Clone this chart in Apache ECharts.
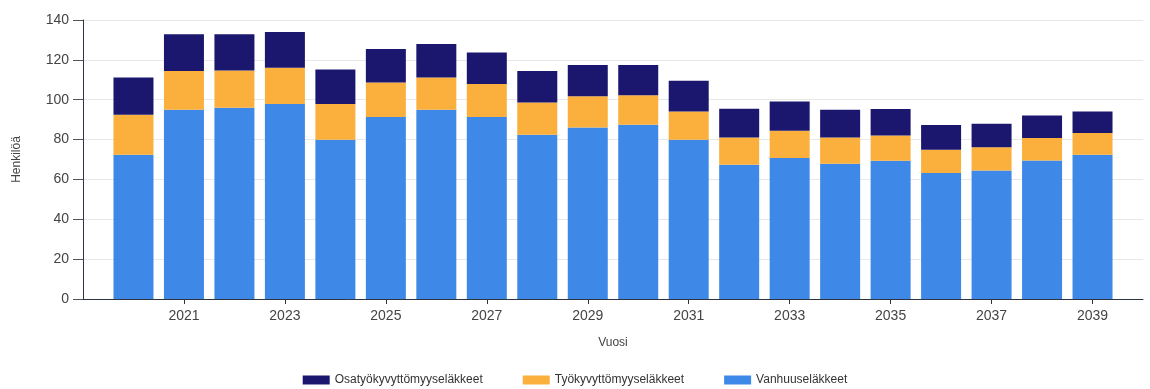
<!DOCTYPE html>
<html>
<head>
<meta charset="utf-8">
<style>
  html, body { margin: 0; padding: 0; background: #ffffff; }
  #chart { width: 1150px; height: 389px; }
</style>
<script src="https://cdn.jsdelivr.net/npm/echarts@6/dist/echarts.min.js"></script>
</head>
<body>
<div id="chart"></div>
<script>
// Eläkkeelle siirtyvät henkilöt vuosittain, eläkelajeittain.
// The year axis runs from 2019 to 2040; the end years carry no bars.
const years = ['2019', '2020', '2021', '2022', '2023', '2024', '2025', '2026', '2027', '2028', '2029',
               '2030', '2031', '2032', '2033', '2034', '2035', '2036', '2037', '2038', '2039', '2040'];

const vanhuuselakkeet = [null, 72.4, 95.0, 96.0, 97.8, 79.9, 91.3, 95.0, 91.3, 82.4, 86.1,
                         87.5, 79.9, 67.4, 70.7, 67.9, 69.4, 63.2, 64.5, 69.5, 72.4, null];
const tyokyvyttomyyselakkeet = [null, 20.1, 19.4, 18.7, 18.3, 17.9, 17.4, 16.2, 16.6, 16.2, 15.6,
                                14.7, 14.2, 13.7, 13.7, 13.2, 12.7, 11.7, 11.6, 11.3, 10.9, null];
const osatyokyvyttomyyselakkeet = [null, 18.7, 18.4, 18.1, 17.9, 17.3, 16.7, 16.7, 15.8, 15.8, 15.7,
                                   15.2, 15.4, 14.4, 14.7, 13.9, 13.2, 12.4, 11.9, 11.3, 10.8, null];

const xTickYears = ['2021', '2023', '2025', '2027', '2029', '2031', '2033', '2035', '2037', '2039'];

const seriesNames = ['Vanhuuseläkkeet', 'Työkyvyttömyyseläkkeet', 'Osatyökyvyttömyyseläkkeet'];
const seriesColors = ['#3e89e7', '#fbaf3c', '#1b176e'];
const seriesValues = [vanhuuselakkeet, tyokyvyttomyyselakkeet, osatyokyvyttomyyselakkeet];

const chart = echarts.init(document.getElementById('chart'), null, { renderer: 'canvas' });

const font = 'Liberation Sans, Arial, sans-serif';
const showYear = (idx, val) => xTickYears.includes(String(val));

chart.setOption({
  animation: false,
  textStyle: { fontFamily: font },
  grid: { left: 83, right: 7, top: 20, bottom: 90, containLabel: false },
  legend: {
    bottom: 3,
    left: 'center',
    padding: 0,
    data: ['Osatyökyvyttömyyseläkkeet', 'Työkyvyttömyyseläkkeet', 'Vanhuuseläkkeet'],
    itemWidth: 27,
    itemHeight: 9,
    itemGap: 40,
    icon: 'rect',
    textStyle: { fontSize: 12, color: '#333', fontFamily: font }
  },
  xAxis: {
    type: 'category',
    data: years,
    boundaryGap: false,
    name: 'Vuosi',
    nameLocation: 'middle',
    nameGap: 38,
    nameTextStyle: { fontSize: 12, color: '#444' },
    axisLine: { show: true, lineStyle: { color: '#2e3440', width: 1 } },
    axisTick: { show: true, interval: showYear, length: 5, lineStyle: { color: '#2e3440' } },
    axisLabel: { interval: showYear, fontSize: 14, color: '#444', margin: 10 },
    splitLine: { show: false }
  },
  yAxis: {
    type: 'value',
    min: 0,
    max: 140,
    interval: 20,
    name: 'Henkilöä',
    nameLocation: 'middle',
    nameGap: 60,
    nameRotate: 90,
    nameTextStyle: { fontSize: 12, color: '#444' },
    axisLine: { show: true, lineStyle: { color: '#2e3440', width: 1 } },
    axisTick: { show: true, length: 10, lineStyle: { color: '#555' } },
    axisLabel: { fontSize: 14, color: '#444', margin: 14 },
    splitLine: { show: true, lineStyle: { color: '#e8e8e8', width: 1 } }
  },
  series: seriesNames.map((name, i) => ({
    name: name,
    type: 'bar',
    stack: 'total',
    barWidth: 40,
    itemStyle: { color: seriesColors[i] },
    data: seriesValues[i]
  }))
});
</script>
</body>
</html>
